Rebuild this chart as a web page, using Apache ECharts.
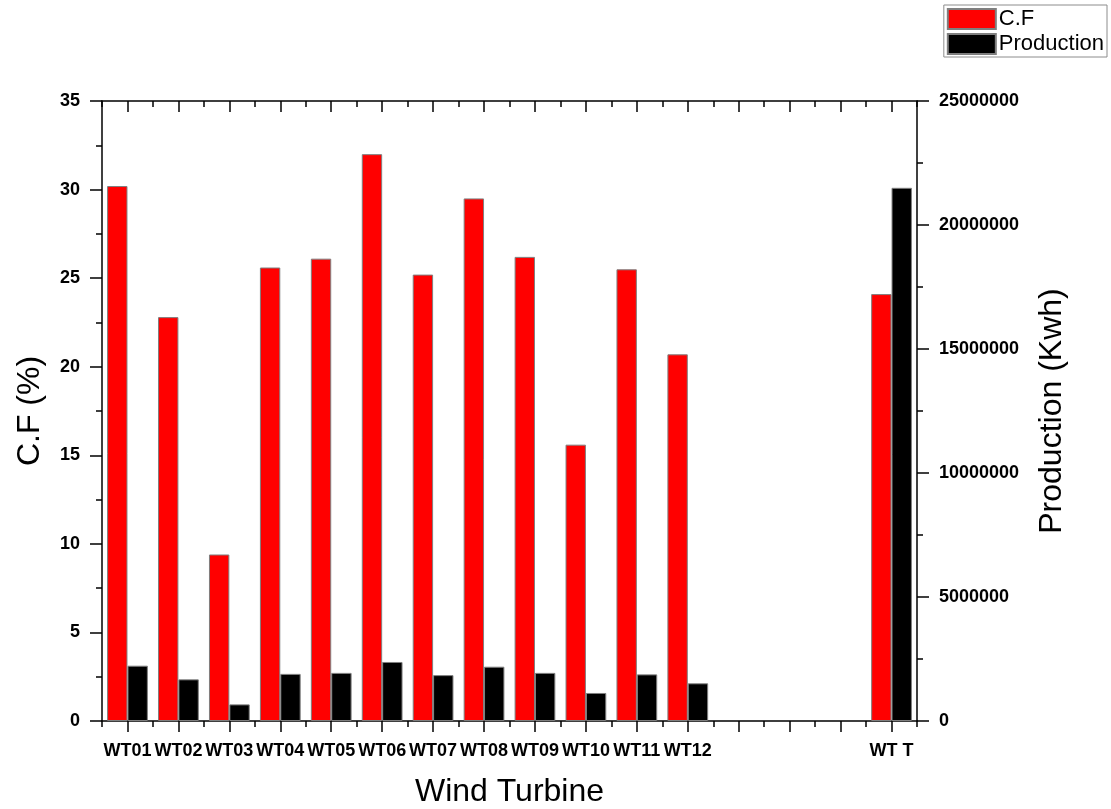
<!DOCTYPE html>
<html>
<head>
<meta charset="utf-8">
<title>C.F and Production per Wind Turbine</title>
<script src="https://cdn.jsdelivr.net/npm/echarts@6/dist/echarts.min.js"></script>
<style>
  html, body { margin: 0; padding: 0; background: #ffffff; }
  #chart { width: 1111px; height: 809px; }
</style>
</head>
<body>
<div id="chart"></div>
<script>
// Turbines on the x axis; three blank slots separate the total column.
const categories = ['WT01', 'WT02', 'WT03', 'WT04', 'WT05', 'WT06', 'WT07', 'WT08',
                    'WT09', 'WT10', 'WT11', 'WT12', '', '', '', 'WT T'];

// Capacity factor (%) — left axis
const capacityFactor = [30.2, 22.8, 9.4, 25.6, 26.1, 32.0, 25.2, 29.5,
                        26.2, 15.6, 25.5, 20.7, null, null, null, 24.1];

// Energy production (Kwh) — right axis
const production = [2230000, 1680000, 670000, 1900000, 1940000, 2380000, 1850000, 2190000,
                    1940000, 1130000, 1880000, 1520000, null, null, null, 21500000];

// Left and right axis ranges
const cfTicks = { min: 0, max: 35, interval: 5 };
const prodTicks = { min: 0, max: 25000000, interval: 5000000 };

const FONT = '"Liberation Sans", Arial, Helvetica, sans-serif';
const AXIS_COLOR = '#000000';
const lineStyle = { color: AXIS_COLOR, width: 1.5 };

// Builds an x axis; the extra ones only carry tick marks (centre or boundary ticks, top or bottom).
function xAxisLayer(position, atCentre, inside, length, withLine, withLabels) {
  return {
    type: 'category',
    position: position,
    data: categories,
    boundaryGap: true,
    axisLine: { show: withLine, onZero: false, lineStyle: lineStyle },
    axisTick: {
      show: true,
      alignWithLabel: atCentre,
      interval: 0,
      inside: inside,
      length: length,
      lineStyle: lineStyle
    },
    axisLabel: withLabels ? {
      show: true,
      interval: 0,
      margin: 21,
      color: '#000',
      fontFamily: FONT,
      fontWeight: 'bold',
      fontSize: 18
    } : { show: false },
    splitLine: { show: false },
    name: withLabels ? 'Wind Turbine' : '',
    nameLocation: 'middle',
    nameGap: 55,
    nameTextStyle: { fontFamily: FONT, fontSize: 32, color: '#000' }
  };
}

function yAxisLayer(position, ticks, name, nameGap) {
  return {
    type: 'value',
    position: position,
    min: ticks.min,
    max: ticks.max,
    interval: ticks.interval,
    name: name,
    nameLocation: 'middle',
    nameGap: nameGap,
    nameRotate: 90,
    nameTextStyle: { fontFamily: FONT, fontSize: 32, color: '#000' },
    axisLine: { show: true, onZero: false, lineStyle: lineStyle },
    axisTick: { show: true, inside: false, length: 12, lineStyle: lineStyle },
    minorTick: { show: true, splitNumber: 2, length: 6, lineStyle: lineStyle },
    axisLabel: {
      show: true,
      margin: 22,
      color: '#000',
      fontFamily: FONT,
      fontWeight: 'bold',
      fontSize: 18,
      formatter: function (v) { return String(v); }
    },
    splitLine: { show: false },
    minorSplitLine: { show: false }
  };
}

const barBorder = { borderColor: '#7f7f7f', borderWidth: 1 };

const option = {
  backgroundColor: '#ffffff',
  animation: false,
  grid: {
    left: 102, right: 194, top: 101, bottom: 88,
    containLabel: false,
    outerBoundsMode: 'none'
  },
  legend: {
    orient: 'vertical',
    right: 4,
    top: 5,
    itemWidth: 48,
    itemHeight: 20,
    itemGap: 3,
    padding: [3, 3, 2, 3],
    borderColor: '#8c8c8c',
    borderWidth: 1,
    borderRadius: 0,
    icon: 'rect',
    textStyle: { fontFamily: FONT, fontSize: 22, color: '#000', padding: [0, 0, 0, -2] },
    data: ['C.F', 'Production']
  },
  xAxis: [
    xAxisLayer('bottom', true, false, 11, true, true),   // labelled axis, ticks at each turbine
    xAxisLayer('bottom', false, false, 6, false, false), // short ticks between turbines
    xAxisLayer('top', true, true, 11, true, false),      // mirrored frame line on top
    xAxisLayer('top', false, true, 6, false, false)
  ],
  yAxis: [
    yAxisLayer('left', cfTicks, 'C.F (%)', 56),
    yAxisLayer('right', prodTicks, 'Production (Kwh)', 119)
  ],
  series: [
    {
      name: 'C.F',
      type: 'bar',
      xAxisIndex: 0,
      yAxisIndex: 0,
      data: capacityFactor,
      barGap: '0%',
      barCategoryGap: '20%',
      itemStyle: Object.assign({ color: '#ff0000' }, barBorder)
    },
    {
      name: 'Production',
      type: 'bar',
      xAxisIndex: 0,
      yAxisIndex: 1,
      data: production,
      barGap: '0%',
      barCategoryGap: '20%',
      itemStyle: Object.assign({ color: '#000000' }, barBorder)
    }
  ]
};

const chart = echarts.init(document.getElementById('chart'), null, { renderer: 'canvas' });
chart.setOption(option);
</script>
</body>
</html>
